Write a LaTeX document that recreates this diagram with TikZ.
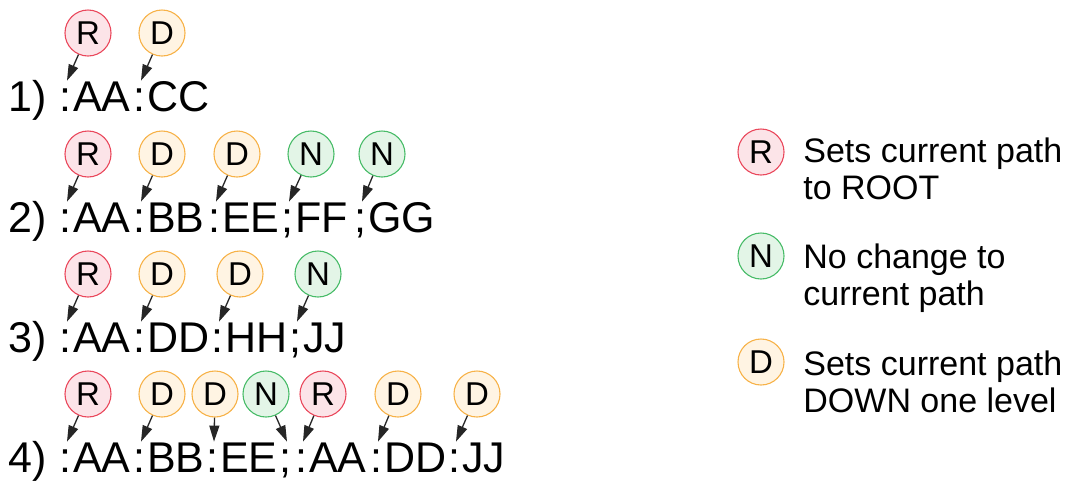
\documentclass[tikz,border=0pt]{standalone}
\usepackage{fontspec}
\setmainfont{Liberation Sans}
\usetikzlibrary{arrows.meta}

\definecolor{rootline}{RGB}{234,72,92}
\definecolor{rootfill}{RGB}{252,228,232}
\definecolor{downline}{RGB}{247,178,72}
\definecolor{downfill}{RGB}{255,244,227}
\definecolor{nochline}{RGB}{72,188,104}
\definecolor{nochfill}{RGB}{227,245,231}

\begin{document}
\begin{tikzpicture}[x=0.5pt, y=-0.5pt,
  tok/.style={inner sep=0pt, text height=15pt, font=\fontsize{21.5}{24}\selectfont},
  flag/.style={circle, inner sep=0pt, minimum size=23pt, line width=0.55pt,
               font=\fontsize{16.5}{18}\selectfont},
  flagR/.style={flag, draw=rootline, fill=rootfill},
  flagD/.style={flag, draw=downline, fill=downfill},
  flagN/.style={flag, draw=nochline, fill=nochfill},
  arr/.style={-{Triangle[length=8pt, width=5pt]}, line width=0.65pt, black!85},
  legtext/.style={anchor=north west, inner sep=0pt, align=left,
                  font=\fontsize{17}{18.5}\selectfont}]
  \useasboundingbox (0,0) rectangle (1077,484);

  % row 1
  \node[tok, anchor=base west] (lab1) at (8,111) {1)};
  \foreach \sx/\s/\w/\cx/\t [count=\k] in {65/:/AA/88/R, 139/:/CC/162/D} {
    \node[tok, anchor=base] (r1s\k) at (\sx,111) {\s};
    \node[tok, anchor=base west] (r1w\k) at ([xshift=0.75pt]r1s\k.base east) {\w};
    \node[flag\t] (r1c\k) at (\cx,33) {\t};
    \draw[arr] (r1c\k) -- ([xshift=1pt]r1s\k.north);
  }

  % row 2
  \node[tok, anchor=base west] (lab2) at (8,232) {2)};
  \foreach \sx/\s/\w/\cx/\t [count=\k] in {65/:/AA/88/R, 139/:/BB/162/D,
      214/:/EE/237/D, 287/;/FF/311/N, 360/;/GG/382/N} {
    \node[tok, anchor=base] (r2s\k) at (\sx,232) {\s};
    \node[tok, anchor=base west] (r2w\k) at ([xshift=0.75pt]r2s\k.base east) {\w};
    \node[flag\t] (r2c\k) at (\cx,154) {\t};
    \draw[arr] (r2c\k) -- ([xshift=1pt]r2s\k.north);
  }

  % row 3
  \node[tok, anchor=base west] (lab3) at (8,352) {3)};
  \foreach \sx/\s/\w/\cx/\t [count=\k] in {65/:/AA/88/R, 139/:/DD/162/D,
      217/:/HH/240/D, 295/;/JJ/318/N} {
    \node[tok, anchor=base] (r3s\k) at (\sx,352) {\s};
    \node[tok, anchor=base west] (r3w\k) at ([xshift=0.75pt]r3s\k.base east) {\w};
    \node[flag\t] (r3c\k) at (\cx,274) {\t};
    \draw[arr] (r3c\k) -- ([xshift=1pt]r3s\k.north);
  }

  % row 4
  \node[tok, anchor=base west] (lab4) at (8,472) {4)};
  \foreach \sx/\s/\w/\cx/\t [count=\k] in {65/:/AA/88/R, 139/:/BB/162/D,
      212/:/EE/215/D, 285/;//266/N, 301/:/AA/323/R, 376/:/DD/398/D, 454/:/JJ/477/D} {
    \node[tok, anchor=base] (r4s\k) at (\sx,472) {\s};
    \node[tok, anchor=base west] (r4w\k) at ([xshift=0.75pt]r4s\k.base east) {\w};
    \node[flag\t] (r4c\k) at (\cx,394) {\t};
    \draw[arr] (r4c\k) -- ([xshift=1pt]r4s\k.north);
  }

  % legend
  \node[flagR] (legR) at (761,152) {R};
  \node[legtext] (txtR) at (803,137) {Sets current path\\to ROOT};
  \node[flagN] (legN) at (761,256) {N};
  \node[legtext] (txtN) at (803,243) {No change to\\current path};
  \node[flagD] (legD) at (761,362) {D};
  \node[legtext] (txtD) at (803,350) {Sets current path\\DOWN one level};
\end{tikzpicture}
\end{document}
